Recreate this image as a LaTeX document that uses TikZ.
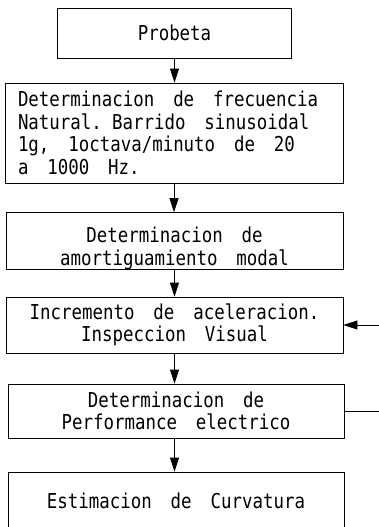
\documentclass[tikz,border=0pt]{standalone}
\usepackage{fontspec}
\setmonofont[FakeStretch=0.85,WordSpace=1.8]{DejaVu Sans Mono}
\usepackage{tikz}
\usetikzlibrary{arrows.meta}
\tikzset{
  caja/.style={draw=black, line width=0.8pt, minimum width=337pt, minimum height=56pt,
    inner sep=0pt, align=center, font=\ttfamily\fontsize{20.5}{22.5}\selectfont},
  flecha/.style={draw=black, line width=0.8pt, -{Triangle[length=14pt,width=9pt]}},
  linea/.style={draw=black, line width=0.8pt},
}

\begin{document}
\begin{tikzpicture}[x=1pt,y=-1pt]
  \useasboundingbox (0,0) rectangle (379,527);
  \clip (0,0) rectangle (379,527);

  % pasos del ensayo
  \node[caja, minimum width=234pt, minimum height=50pt] (probeta) at (174.5,33) {Probeta};
  \node[caja, minimum width=338pt, minimum height=100pt, align=left, text width=312pt] (frecuencia) at (174,133)
    {\spaceskip=18.9pt Determinacion de frecuencia\\Natural. Barrido sinusoidal\\1g, 1octava/minuto de 20\\a 1000 Hz.};
  \node[caja] (amortiguamiento) at (174.5,241) {\rule{0pt}{30pt}Determinacion de\\amortiguamiento modal};
  \node[caja] (incremento) at (174.5,325) {Incremento de aceleracion.\\Inspeccion Visual};
  \node[caja, minimum width=336pt, minimum height=54pt] (performance) at (176,411) {Determinacion de\\Performance electrico};
  \node[caja, minimum width=336pt, minimum height=58pt] (curvatura) at (176,501) {Estimacion de Curvatura};

  % flechas verticales
  \draw[flecha] (probeta.south) -- (probeta.south |- frecuencia.north);
  \draw[flecha] (frecuencia.south) -- (frecuencia.south |- amortiguamiento.north);
  \draw[flecha] (amortiguamiento.south) -- (amortiguamiento.south |- incremento.north);
  \draw[flecha] (incremento.south) -- (incremento.south |- performance.north);
  \draw[flecha] (incremento.south |- performance.south) -- (incremento.south |- curvatura.north);

  % lazo lateral
  \coordinate (entrada) at (379,325);
  \coordinate (salida) at (379,411);
  \draw[flecha] (entrada) -- (incremento.east);
  \draw[linea] (performance.east) -- (salida);
\end{tikzpicture}
\end{document}
